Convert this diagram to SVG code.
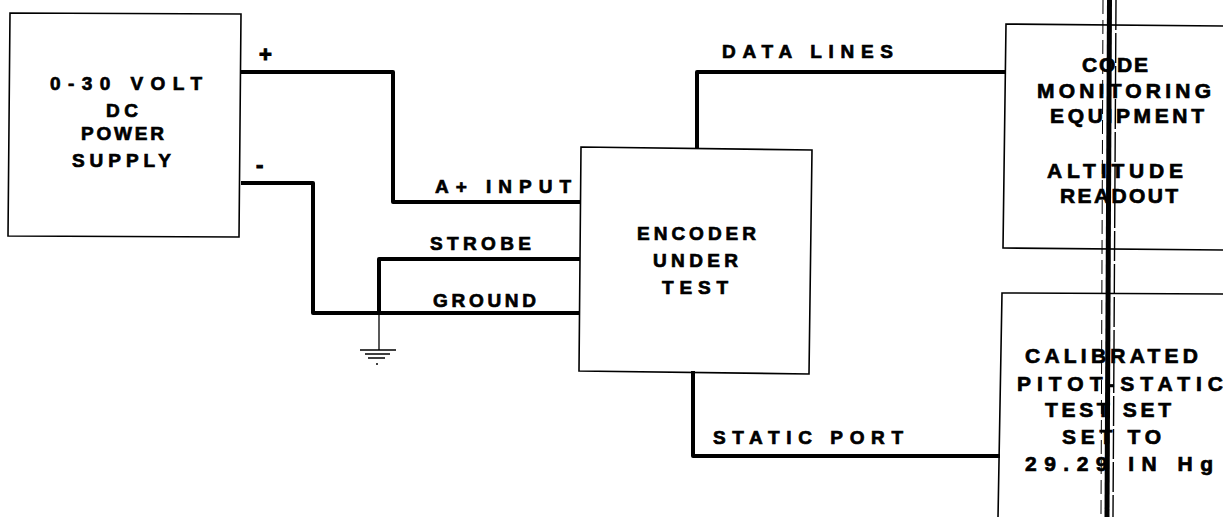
<svg xmlns="http://www.w3.org/2000/svg" width="1223" height="517" viewBox="0 0 1223 517">
<style>
.box{fill:none;stroke:#000;stroke-width:1.6;stroke-linejoin:miter}
.wire{fill:none;stroke:#000;stroke-width:4;stroke-linejoin:round;stroke-linecap:butt}
.thin{fill:none;stroke:#000;stroke-width:1.3}
text{font-family:"Liberation Sans",Arial,sans-serif;font-weight:bold;fill:#000;stroke:#000;stroke-width:0.7;font-size:19px}
.big{font-size:21px}
.lbl{font-size:19px}
</style>
<rect x="0" y="0" width="1223" height="517" fill="#fff"/>
<g id="power-supply">
<path class="box" d="M10 13 L241 14 L239 237 L8 236 Z"/>
<text x="50" y="90" textLength="152" lengthAdjust="spacing">0-30 VOLT</text>
<text x="106" y="117" textLength="32" lengthAdjust="spacing">DC</text>
<text x="81" y="140" textLength="83" lengthAdjust="spacing">POWER</text>
<text x="72" y="167" textLength="99" lengthAdjust="spacing">SUPPLY</text>
</g>
<g id="encoder">
<path class="box" d="M581 147 L812 150 L809 374 L579 371 Z"/>
<text x="637" y="240" textLength="119" lengthAdjust="spacing">ENCODER</text>
<text x="653" y="267" textLength="85" lengthAdjust="spacing">UNDER</text>
<text x="662" y="294" textLength="66" lengthAdjust="spacing">TEST</text>
</g>
<g id="code-monitoring">
<path class="box" d="M1224 26 L1006 24 L1003 248 L1224 250"/>
<text class="big" x="1082" y="72" textLength="66" lengthAdjust="spacing">CODE</text>
<text class="big" x="1037" y="98" textLength="174" lengthAdjust="spacing">MONITORING</text>
<text class="big" x="1050" y="123" textLength="154" lengthAdjust="spacing">EQUIPMENT</text>
<text class="big" x="1047" y="178" textLength="136" lengthAdjust="spacing">ALTITUDE</text>
<text class="big" x="1060" y="203" textLength="118" lengthAdjust="spacing">READOUT</text>
</g>
<g id="pitot-static">
<path class="box" d="M1224 294 L1002 293 L998 518"/>
<text class="big" x="1025" y="363" textLength="173" lengthAdjust="spacing">CALIBRATED</text>
<text class="big" x="1017" y="391" textLength="206" lengthAdjust="spacing">PITOT-STATIC</text>
<text class="big" x="1045" y="417" textLength="126" lengthAdjust="spacing">TEST SET</text>
<text class="big" x="1062" y="444" textLength="99" lengthAdjust="spacing">SET TO</text>
<text class="big" x="1025" y="471" textLength="188" lengthAdjust="spacing">29.29 IN Hg</text>
</g>
<g id="ground">
<path class="thin" d="M379 313 V350"/>
<path class="thin" d="M360 350 H396 M365 354 H390 M368 358 H385"/>
<circle cx="377" cy="364" r="1" fill="#000"/>
</g>
<g id="connectors">
<path class="wire" d="M241 72 H393 V202 H580"/>
<path class="wire" d="M241 183 H313 V313 H580"/>
<path class="wire" d="M580 259 H379 V313"/>
<path class="wire" d="M697 148 V72 H1005"/>
<path class="wire" d="M693 371 V456 H1000"/>
</g>
<g id="labels">
<text x="259" y="62" style="font-size:22px;stroke-width:1">+</text>
<text x="256" y="172" style="font-size:22px;stroke-width:1">-</text>
<text class="lbl" x="435" y="193" textLength="136" lengthAdjust="spacing">A+ INPUT</text>
<text class="lbl" x="430" y="250" textLength="101" lengthAdjust="spacing">STROBE</text>
<text class="lbl" x="433" y="307" textLength="103" lengthAdjust="spacing">GROUND</text>
<text class="lbl" x="722" y="58" textLength="171" lengthAdjust="spacing">DATA LINES</text>
<text class="lbl" x="713" y="444" textLength="190" lengthAdjust="spacing">STATIC PORT</text>
</g>
<g id="divider">
<path d="M1109.5 0 L1107 517" stroke="#000" stroke-width="5" fill="none"/>
<path d="M1116 0 L1113 517" stroke="#000" stroke-width="1.4" fill="none" stroke-dasharray="30 3"/>
<path d="M1103 0 L1101 517" stroke="#000" stroke-width="1" fill="none" stroke-dasharray="14 6"/>
</g>
</svg>
